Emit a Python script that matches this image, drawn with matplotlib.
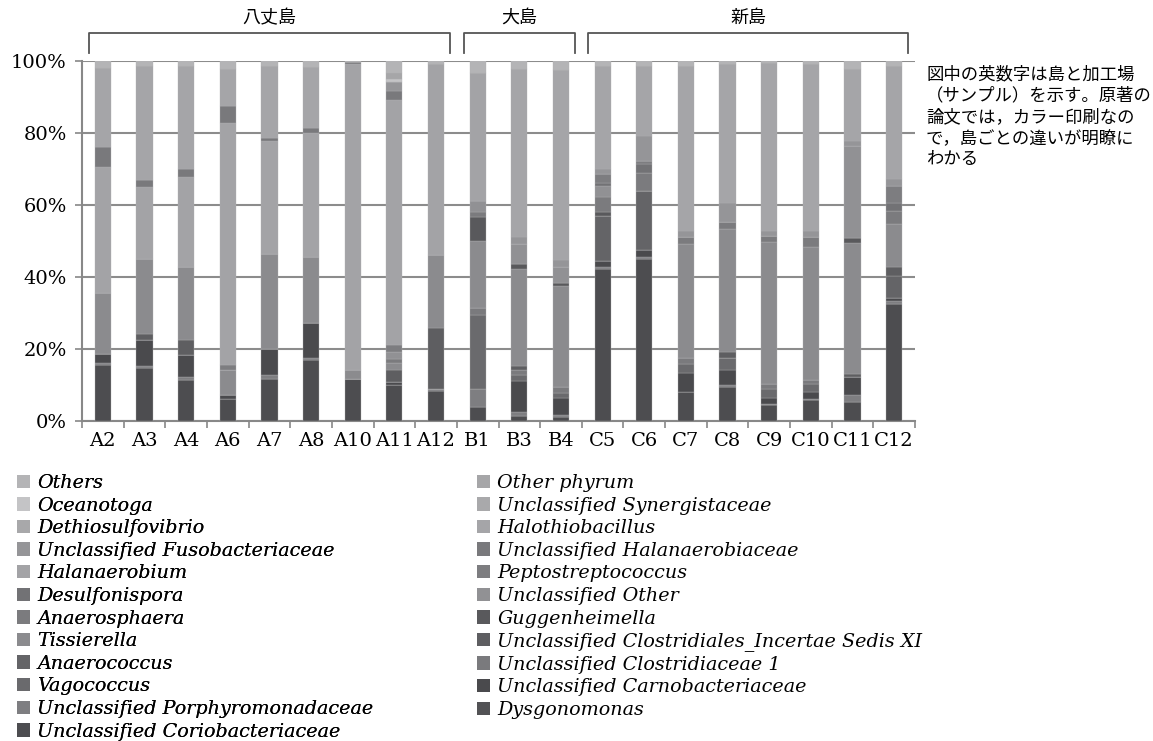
import matplotlib
matplotlib.use('Agg')
from matplotlib import pyplot as plt
from matplotlib.patches import Patch
import matplotlib.transforms as mtransforms
import numpy as np

# sample labels, left to right
samples = ['A2', 'A3', 'A4', 'A6', 'A7', 'A8', 'A10', 'A11', 'A12',
           'B1', 'B3', 'B4',
           'C5', 'C6', 'C7', 'C8', 'C9', 'C10', 'C11', 'C12']

# island groups: (name, first sample, last sample)
islands = [('八丈島', 'A2', 'A12'), ('大島', 'B1', 'B4'), ('新島', 'C5', 'C12')]

# taxa in stacking order, bottom -> top
categories = [
    'Unclassified Coriobacteriaceae', 'Dysgonomonas',
    'Unclassified Porphyromonadaceae', 'Unclassified Carnobacteriaceae',
    'Vagococcus', 'Unclassified Clostridiaceae 1',
    'Anaerococcus', 'Unclassified Clostridiales_Incertae Sedis XI',
    'Tissierella', 'Guggenheimella',
    'Anaerosphaera', 'Unclassified Other',
    'Desulfonispora', 'Peptostreptococcus',
    'Halanaerobium', 'Unclassified Halanaerobiaceae',
    'Unclassified Fusobacteriaceae', 'Halothiobacillus',
    'Dethiosulfovibrio', 'Unclassified Synergistaceae',
    'Oceanotoga', 'Other phyrum',
    'Others',
]
colors = [
    '#4d4d50', '#525255', '#7e7e81', '#4a4a4d',
    '#6a6a6d', '#7a7a7d', '#646467', '#5e5e61',
    '#8b8b8e', '#59595c', '#7b7b7e', '#919194',
    '#727275', '#7d7d80', '#a3a3a6', '#79797c',
    '#959598', '#a5a5a8', '#a8a8aa', '#a9a9ab',
    '#c4c4c6', '#a6a6a8', '#b4b4b6',
]

# relative abundance (%) per sample, same order as samples
coriobacteriaceae = [15.5, 14.8, 11.5, 6.0, 11.8, 16.9, 11.8, 10.0, 8.4,
                     4.0, 1.5, 1.2,
                     42.3, 45.1, 8.1, 9.5, 4.4, 5.8, 5.4, 32.6]
dysgonomonas = [0] * 20
porphyromonadaceae = [0.5, 0.5, 0.6, 0, 0.9, 0.6, 0, 0, 0.4,
                      4.8, 0.9, 0.5,
                      0.6, 0.4, 0, 0.5, 0.4, 0.4, 1.8, 0.7]
carnobacteriaceae = [2.5, 7.1, 6.2, 1.2, 7.2, 9.7, 0, 0.9, 0,
                     0, 8.7, 4.6,
                     1.5, 2.1, 5.1, 4.3, 1.5, 1.9, 5.1, 1.0]
vagococcus = [0, 0, 0, 0, 0, 0, 0, 0, 0,
              20.6, 1.6, 1.4,
              0, 0, 2.5, 3.1, 2.7, 2.3, 0, 0]
clostridiaceae1 = [0, 0, 0, 0, 0, 0, 0, 0, 0,
                   2.1, 1.4, 1.8,
                   0, 0, 1.7, 0, 1.4, 0.9, 0, 0]
anaerococcus = [0, 0, 0, 0, 0, 0, 0, 0, 0,
                0, 0, 0,
                12.5, 16.4, 0, 0, 0, 0, 0, 6.1]
clostridiales_xi = [0, 1.9, 4.1, 0, 0, 0, 0, 3.2, 16.9,
                    0, 1.1, 0,
                    0, 0, 0, 1.8, 0, 0, 0.7, 2.5]
tissierella = [17.0, 20.8, 20.4, 7.1, 26.4, 18.3, 2.3, 1.9, 20.3,
               18.4, 27.1, 27.9,
               0, 0, 31.8, 34.2, 39.2, 37.1, 36.4, 11.9]
guggenheimella = [0, 0, 0, 0, 0, 0, 0, 0, 0,
                  6.7, 1.4, 0.9,
                  1.1, 0, 0, 0, 0, 0, 1.5, 0]
anaerosphaera = [0, 0, 0, 0, 0, 0, 0, 1.3, 0,
                 1.4, 0, 0,
                 4.1, 4.8, 1.9, 1.8, 1.8, 2.7, 0, 3.6]
uncl_other = [0, 0, 0, 0, 0, 0, 0, 1.8, 0,
              3.2, 5.5, 4.6,
              3.3, 0, 0, 0, 0, 0, 25.6, 0]
desulfonispora = [0, 0, 0, 0, 0, 0, 0, 0, 0,
                  0, 0, 0,
                  0.6, 2.6, 0, 0, 0, 0, 0, 2.1]
peptostreptococcus = [0, 0, 0, 1.2, 0, 0, 0, 1.9, 0,
                      0, 0, 0,
                      2.6, 0.9, 0, 0, 0, 0, 0, 4.9]
halanaerobium = [35.1, 19.8, 24.9, 67.4, 31.4, 34.5, 85.0, 68.3, 53.1,
                 35.6, 0, 0,
                 0, 0, 0, 0, 0, 0, 0, 0]
halanaerobiaceae = [5.6, 2.0, 2.3, 4.6, 0.9, 1.3, 0.6, 2.3, 0,
                    0, 0, 0,
                    0, 0, 0, 0, 0, 0, 0, 0]
fusobacteriaceae = [0, 0, 0, 0, 0, 0, 0, 2.6, 0,
                    0, 1.9, 1.9,
                    1.4, 6.9, 1.8, 5.3, 1.4, 1.7, 1.3, 1.8]
halothiobacillus = [21.9, 31.7, 28.6, 10.2, 20.0, 16.9, 0, 0, 0,
                    0, 46.6, 52.7,
                    28.6, 19.4, 45.7, 38.6, 46.6, 46.3, 19.9, 31.4]
dethiosulfovibrio = [0] * 20
synergistaceae = [0] * 20
oceanotoga = [0, 0, 0, 0, 0, 0, 0, 0.9, 0,
              0, 0, 0,
              0, 0, 0, 0, 0, 0, 0, 0]
other_phyrum = [0, 0, 0, 0, 0, 0, 0, 1.6, 0,
                0, 0, 0,
                0, 0, 0, 0, 0, 0, 0, 0]
others = [1.9, 1.4, 1.4, 2.3, 1.4, 1.8, 0.3, 3.3, 0.9,
          3.2, 2.3, 2.5,
          1.4, 1.4, 1.4, 0.9, 0.6, 0.9, 2.3, 1.4]

values = [coriobacteriaceae, dysgonomonas, porphyromonadaceae,
          carnobacteriaceae, vagococcus, clostridiaceae1, anaerococcus,
          clostridiales_xi, tissierella, guggenheimella, anaerosphaera,
          uncl_other, desulfonispora, peptostreptococcus, halanaerobium,
          halanaerobiaceae, fusobacteriaceae, halothiobacillus,
          dethiosulfovibrio, synergistaceae, oceanotoga, other_phyrum,
          others]

note = ('図中の英数字は島と加工場\n（サンプル）を示す。原著の\n'
        '論文では，カラー印刷なの\nで，島ごとの違いが明瞭に\nわかる')

jp_font = ['Noto Sans CJK JP', 'DejaVu Sans']
serif = 'DejaVu Serif'

fig = plt.figure(figsize=(11.53, 7.41), dpi=100)
ax = fig.add_axes([82 / 1153, 1 - 421 / 741, 833 / 1153, 360 / 741])

x = np.arange(len(samples))
bottom = np.zeros(len(samples))
handles = []
for name, col, vals in zip(categories, colors, values):
    vals = np.array(vals, dtype=float)
    ax.bar(x, vals, width=0.39, bottom=bottom, color=col,
           edgecolor='#b0b0b2', linewidth=0.25, zorder=3)
    bottom += vals
    handles.append(Patch(facecolor=col, edgecolor='none', label=name))

ax.set_xlim(-0.5, len(samples) - 0.5)
ax.set_ylim(0, 100)
ax.set_yticks(np.arange(0, 101, 20))
ax.set_yticklabels(['%d%%' % v for v in range(0, 101, 20)],
                   fontfamily=serif, fontsize=14)
ax.set_xticks(x)
ax.set_xticklabels(samples, fontfamily=serif, fontsize=14)
ax.set_xticks(np.arange(len(samples) + 1) - 0.5, minor=True)
ax.tick_params(axis='x', which='major', length=0, pad=8)
ax.tick_params(axis='x', which='minor', length=5, width=1.2,
               color='#888888', direction='out')
ax.tick_params(axis='y', length=5, width=1.2, color='#888888', pad=6)
ax.yaxis.grid(True, color='#8c8c8c', linewidth=1.5, zorder=0)
ax.set_axisbelow(True)
for side in ['top', 'right']:
    ax.spines[side].set_visible(False)
for side in ['left', 'bottom']:
    ax.spines[side].set_color('#888888')
    ax.spines[side].set_linewidth(1.5)

# island brackets above the bars
trans = mtransforms.blended_transform_factory(ax.transData, ax.transAxes)
for name, first, last in islands:
    x0 = samples.index(first) - 0.34
    x1 = samples.index(last) + 0.34
    ax.plot([x0, x0, x1, x1], [1.022, 1.078, 1.078, 1.022],
            color='#555555', linewidth=1.3, transform=trans,
            clip_on=False)
    ax.text((x0 + x1) / 2, 1.12, name, transform=trans, ha='center',
            va='center', fontsize=13, family=jp_font)

fig.text(926 / 1153, 1 - 65 / 741, note, ha='left', va='top',
         fontsize=12.5, family=jp_font, linespacing=1.24)

# legend: two columns, read row by row from the top of the stack
rev = handles[::-1]
leg_kw = dict(frameon=False, handlelength=0.7, handleheight=0.7,
              handletextpad=0.35, labelspacing=0.24, borderpad=0,
              borderaxespad=0,
              prop={'family': serif, 'style': 'italic', 'size': 13.8})
leg1 = fig.legend(handles=rev[0::2], loc='upper left',
                  bbox_to_anchor=(17 / 1153, 1 - 474 / 741), **leg_kw)
fig.add_artist(leg1)
fig.legend(handles=rev[1::2], loc='upper left',
           bbox_to_anchor=(477 / 1153, 1 - 474 / 741), **leg_kw)

fig.savefig('out.png', dpi=100)
